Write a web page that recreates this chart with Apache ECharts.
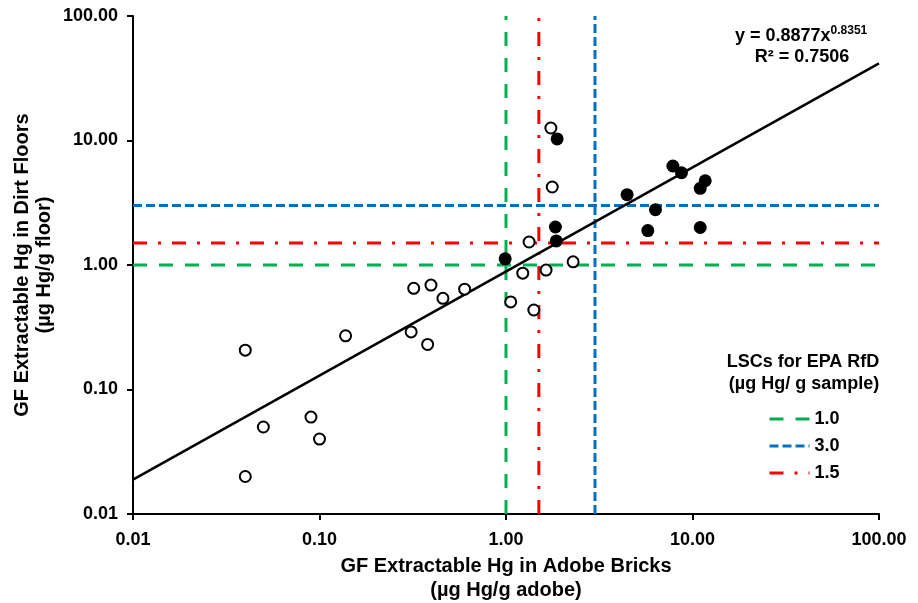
<!DOCTYPE html>
<html>
<head>
<meta charset="utf-8">
<script src="https://cdn.jsdelivr.net/npm/echarts@6/dist/echarts.min.js"></script>
<style>html,body{margin:0;padding:0;background:#fff;}#c{width:918px;height:603px;}</style>
</head>
<body>
<div id="c"></div>
<script>
// Open circles (x: adobe bricks, y: dirt floors)
const openPts = [
  [1.74, 12.6], [1.77, 4.23], [1.33, 1.53], [2.29, 1.06], [1.23, 0.86],
  [1.64, 0.91], [1.06, 0.505], [1.41, 0.435], [0.32, 0.65], [0.396, 0.69],
  [0.459, 0.54], [0.60, 0.64], [0.138, 0.27], [0.31, 0.29], [0.38, 0.23],
  [0.040, 0.207], [0.090, 0.060], [0.050, 0.050], [0.100, 0.040], [0.040, 0.020]
];
// Filled circles
const filledPts = [
  [1.88, 10.3], [1.84, 2.02], [1.86, 1.56], [0.99, 1.12], [4.46, 3.67],
  [6.33, 2.78], [5.76, 1.89], [7.85, 6.24], [8.73, 5.51], [11.7, 4.75],
  [11.0, 4.13], [11.0, 2.00]
];
// Power trend line end points (y = 0.8877x^0.8351)
const trendPts = [[0.01, 0.0189], [100, 41.7]];
// LSC levels
const lscNames = ['1.0', '3.0', '1.5'];
const lscValues = [1.0, 3.0, 1.5];
const lscColors = ['#00B050', '#0070C0', '#FF0000'];
const lscDash = [[14, 12], [9, 4], [14, 11, 3, 11]];
const axisMin = 0.01, axisMax = 100;

const font = 'Liberation Sans, Arial, sans-serif';
const chart = echarts.init(document.getElementById('c'));

const lscSeries = lscValues.map((v, i) => ({
  name: lscNames[i],
  type: 'line',
  symbol: 'none',
  silent: true,
  connectNulls: false,
  z: 1,
  lineStyle: { color: lscColors[i], width: 3, type: lscDash[i], cap: 'butt' },
  itemStyle: { color: lscColors[i] },
  data: [[v, axisMin], [v, axisMax], '-', [axisMin, v], [axisMax, v]]
}));

const axisCommon = {
  type: 'log', logBase: 10, min: axisMin, max: axisMax,
  nameLocation: 'middle',
  nameMoveOverlap: false,
  axisLine: { lineStyle: { color: '#000', width: 2 } },
  axisTick: { show: true, inside: false, length: 6, lineStyle: { color: '#000', width: 2 } },
  minorTick: { show: false },
  splitLine: { show: false }
};

const option = {
  animation: false,
  backgroundColor: '#fff',
  grid: { left: 133, right: 39, top: 16, bottom: 89, containLabel: false, outerBoundsMode: 'none' },
  xAxis: Object.assign({}, axisCommon, {
    name: 'GF Extractable Hg in Adobe Bricks\n(µg Hg/g adobe)',
    nameGap: 40,
    nameTextStyle: { fontFamily: font, fontWeight: 'bold', fontSize: 20, color: '#000', lineHeight: 24 },
    axisLabel: { fontFamily: font, fontWeight: 'bold', fontSize: 18, color: '#000', margin: 17,
      formatter: v => Number(v).toFixed(2) }
  }),
  yAxis: Object.assign({}, axisCommon, {
    name: 'GF Extractable Hg in Dirt Floors\n(µg Hg/g floor)',
    nameGap: 78,
    nameTextStyle: { fontFamily: font, fontWeight: 'bold', fontSize: 20, color: '#000', lineHeight: 22 },
    axisLabel: { fontFamily: font, fontWeight: 'bold', fontSize: 18, color: '#000', margin: 15,
      formatter: v => Number(v).toFixed(2) }
  }),
  legend: {
    data: lscNames,
    orient: 'vertical',
    left: 763, top: 405,
    itemWidth: 40, itemHeight: 14, itemGap: 9,
    itemStyle: { color: 'transparent', borderColor: 'transparent', borderWidth: 0, opacity: 0 },
    lineStyle: { width: 3 },
    textStyle: { fontFamily: font, fontWeight: 'bold', fontSize: 18, color: '#000' },
    selectedMode: false
  },
  graphic: [
    { type: 'text', x: 803, y: 362, style: { text: 'LSCs for EPA RfD', fontFamily: font, fontWeight: 'bold', fontSize: 18, fill: '#000', align: 'center', verticalAlign: 'middle' } },
    { type: 'text', x: 804, y: 384, style: { text: '(µg Hg/ g sample)', fontFamily: font, fontWeight: 'bold', fontSize: 18, fill: '#000', align: 'center', verticalAlign: 'middle' } },
    { type: 'text', x: 735, y: 36, style: {
        text: '{a|y = 0.8877x}{s|0.8351}',
        verticalAlign: 'middle',
        rich: {
          a: { fontFamily: font, fontWeight: 'bold', fontSize: 18, fill: '#000', color: '#000', lineHeight: 22 },
          s: { fontFamily: font, fontWeight: 'bold', fontSize: 12, fill: '#000', color: '#000', lineHeight: 22, verticalAlign: 'top', padding: [0, 0, 10, 0] }
        } } },
    { type: 'text', x: 802, y: 57, style: { text: 'R² = 0.7506', fontFamily: font, fontWeight: 'bold', fontSize: 18, fill: '#000', align: 'center', verticalAlign: 'middle' } }
  ],
  series: [
    ...lscSeries,
    {
      name: 'trend', type: 'line', symbol: 'none', silent: true, z: 3,
      lineStyle: { color: '#000', width: 2.5 },
      data: trendPts
    },
    {
      name: 'open', type: 'scatter', symbol: 'circle', symbolSize: 11, z: 4,
      itemStyle: { color: '#fff', borderColor: '#000', borderWidth: 2, opacity: 1 },
      data: openPts
    },
    {
      name: 'filled', type: 'scatter', symbol: 'circle', symbolSize: 13, z: 5,
      itemStyle: { color: '#000', borderColor: '#000', borderWidth: 0, opacity: 1 },
      data: filledPts
    }
  ]
};
chart.setOption(option);
</script>
</body>
</html>
